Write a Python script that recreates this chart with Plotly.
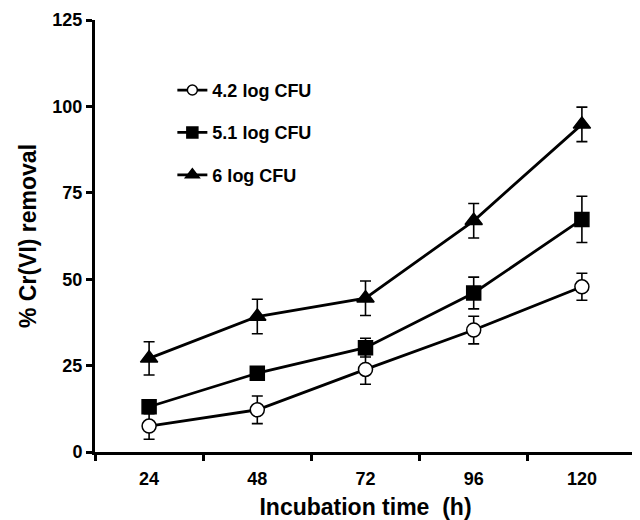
import plotly.graph_objects as go

hours = ["24", "48", "72", "96", "120"]
names = ["4.2 log CFU", "5.1 log CFU", "6 log CFU"]
cfu42 = [7.5, 12.2, 23.9, 35.3, 47.8]
cfu42_err = [3.8, 4.0, 4.3, 4.0, 3.9]
cfu51 = [13.1, 22.8, 30.2, 46.0, 67.3]
cfu51_err = [2.0, 1.5, 2.7, 4.6, 6.7]
cfu6 = [27.1, 39.2, 44.5, 66.9, 94.8]
cfu6_err = [4.8, 5.0, 5.0, 5.0, 5.0]
y_ticks = [0, 25, 50, 75, 100, 125]

FONT = "Liberation Sans, Arial, sans-serif"

series = [
    (names[0], cfu42, cfu42_err, "circle", "white", 14, 10),
    (names[1], cfu51, cfu51_err, "square", "black", 14, 11),
    (names[2], cfu6, cfu6_err, "triangle-up", "black", 15, 12),
]

fig = go.Figure()
for i, (nm, ys, es, sym, fill, sz, lsz) in enumerate(series):
    fig.add_trace(go.Scatter(
        x=hours, y=ys, name=nm, mode="lines+markers",
        showlegend=False,
        line=dict(color="black", width=2.8),
        marker=dict(symbol=sym, size=sz, color=fill,
                    line=dict(color="black", width=1.5)),
        error_y=dict(type="data", array=es, visible=True,
                     color="black", thickness=1.6, width=5.5),
    ))
for i, (nm, ys, es, sym, fill, sz, lsz) in enumerate(series):
    fig.add_trace(go.Scatter(
        x=[None], y=[None], name=nm, mode="lines+markers",
        legendgroup=f"g{i}",
        line=dict(color="black", width=2.8),
        marker=dict(symbol=sym, size=lsz, color=fill,
                    line=dict(color="black", width=1.5)),
    ))

fig.update_layout(
    width=632, height=512,
    margin=dict(l=87, r=4, t=12, b=68),
    plot_bgcolor="white", paper_bgcolor="white",
    font=dict(family=FONT, color="black"),
    showlegend=True,
    legend=dict(x=0.143, y=0.88, xanchor="left", yanchor="top",
                bgcolor="rgba(0,0,0,0)", tracegroupgap=16,
                font=dict(size=18, family=FONT, weight="bold")),
    xaxis=dict(
        type="category", range=[-0.5, 4.5], tickson="boundaries",
        automargin=False,
        showline=True, linecolor="black", linewidth=3,
        ticks="outside", ticklen=6, tickwidth=2.5, tickcolor="black",
        ticklabelstandoff=8,
        showgrid=False, zeroline=False,
        tickfont=dict(size=18, weight="bold"),
        title=dict(text="Incubation time  (h)", standoff=13,
                   font=dict(size=23, weight="bold")),
    ),
    yaxis=dict(
        range=[0, 125], tickvals=y_ticks, automargin=False,
        showline=True, linecolor="black", linewidth=3,
        ticks="outside", ticklen=6, tickwidth=2.5, tickcolor="black",
        ticklabelstandoff=0,
        showgrid=False, zeroline=False,
        tickfont=dict(size=18, weight="bold"),
        title=dict(text="% Cr(VI) removal", standoff=10,
                   font=dict(size=23, weight="bold")),
    ),
)

fig.write_html("out.html")
